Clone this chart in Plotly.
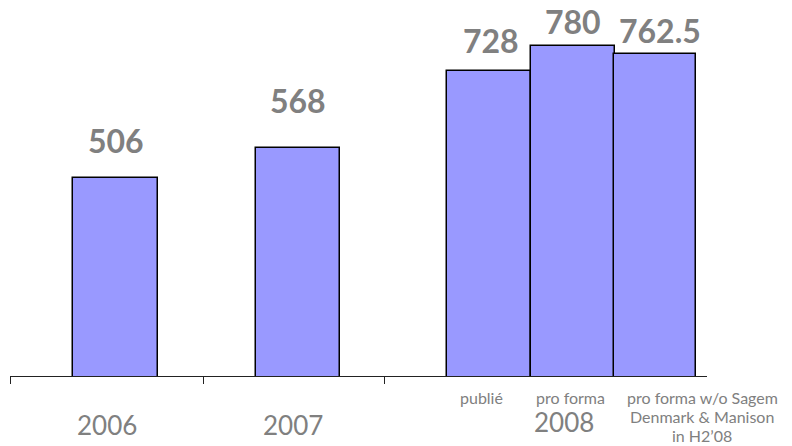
import plotly.graph_objects as go

# ---- data ----
sub_labels = ["publié", "pro forma", "pro forma w/o Sagem|Denmark & Manison|in H2’08"]
values = [506, 568, 728, 780, 762.5]
value_text = ["506", "568", "728", "780", "762.5"]
years = ["2006", "2007", "2008"]

# ---- layout (axis units = pixels of the plot area) ----
bar_centers = [115.5, 298, 488.5, 572.5, 655]
bar_width = [85, 84, 84, 84, 82]
label_gap = [37, 47, 30, 24, 24]
label_dx = [0, 0, 2, 0, 5]
group_bounds = [10, 203, 384]
year_centers = [107, 293, 564]
year_shift = [-49, -49, -46]
sub_centers = [481, 570, 702]

GRAY = "#808080"
FONT = "Lato"

fig = go.Figure()
fig.add_trace(go.Bar(
    x=bar_centers, y=values, width=bar_width,
    marker=dict(color="#9999FF", line=dict(color="black", width=1.5)),
    hoverinfo="skip",
))

ann = []
for xc, v, t, g, dx in zip(bar_centers, values, value_text, label_gap, label_dx):
    ann.append(dict(x=xc, y=v, xref="x", yref="y", text=t, showarrow=False,
                    yanchor="middle", yshift=g, xshift=dx,
                    font=dict(family=FONT, size=32, color=GRAY, weight="bold")))
for xc, t, ys in zip(year_centers, years, year_shift):
    ann.append(dict(x=xc, y=0, xref="x", yref="paper", text=t, showarrow=False,
                    yanchor="middle", yshift=ys,
                    font=dict(family=FONT, size=26, color=GRAY)))
for xc, t in zip(sub_centers, sub_labels):
    for i, line in enumerate(t.split("|")):
        ann.append(dict(x=xc, y=0, xref="x", yref="paper", text=line,
                        showarrow=False, yanchor="middle", yshift=-21 - 19 * i,
                        font=dict(family=FONT, size=16, color=GRAY)))

fig.update_layout(
    width=792, height=446,
    margin=dict(l=10, r=85, t=0, b=70),
    paper_bgcolor="white", plot_bgcolor="white",
    showlegend=False,
    bargap=0,
    annotations=ann,
    xaxis=dict(range=[9.5, 707], showgrid=False, zeroline=False,
               showline=True, linecolor="#222", linewidth=1.2,
               ticks="outside", tickvals=group_bounds, ticklen=7,
               tickcolor="#222", tickwidth=1, showticklabels=False),
    yaxis=dict(range=[95, 875], visible=False, showgrid=False, zeroline=False),
)

fig.write_html("out.html")
